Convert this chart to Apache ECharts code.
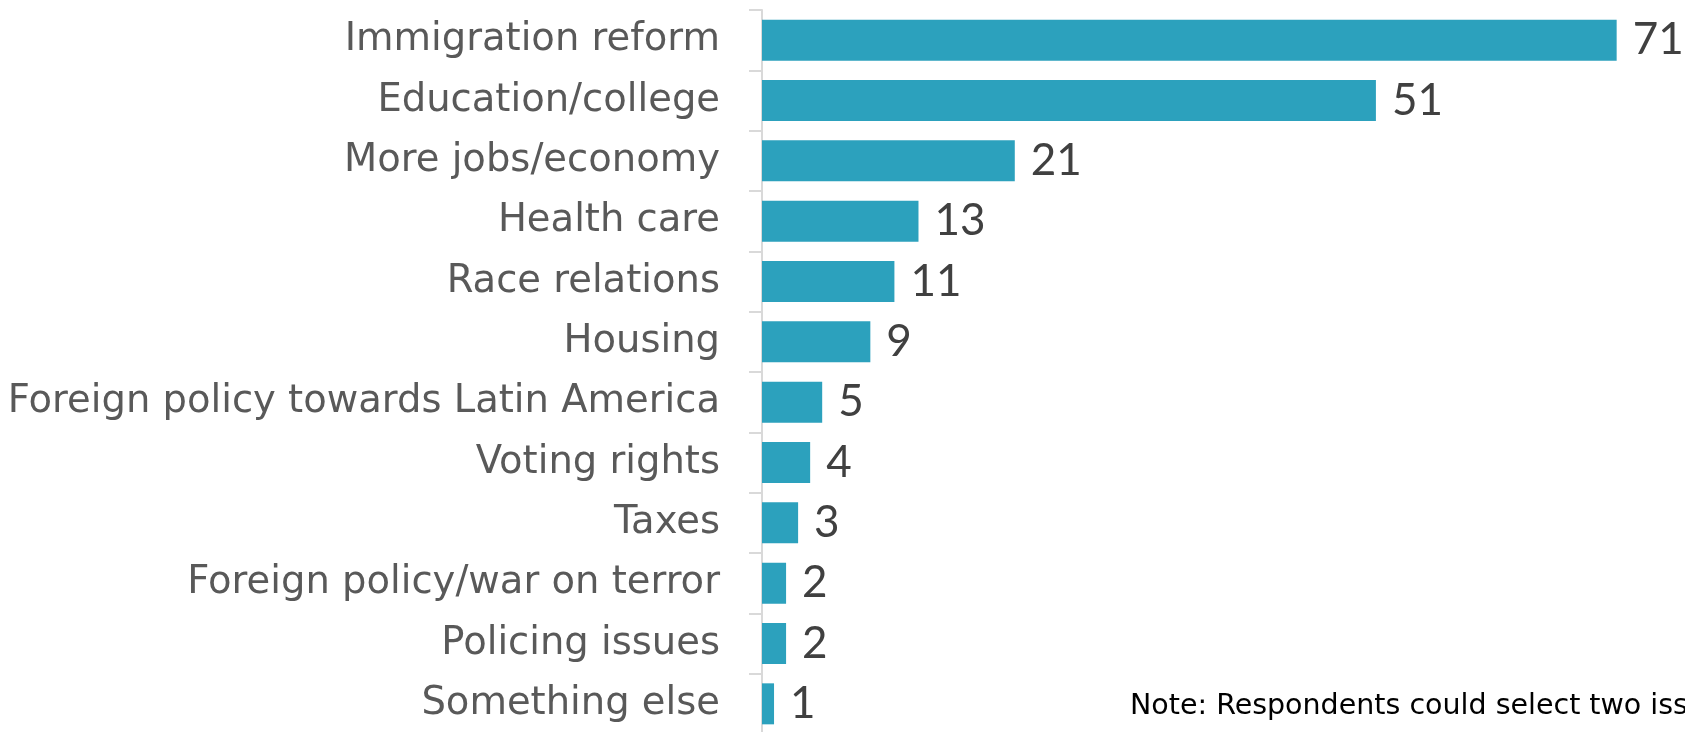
<!DOCTYPE html>
<html>
<head>
<meta charset="utf-8">
<script src="https://cdn.jsdelivr.net/npm/echarts@6/dist/echarts.min.js"></script>
<style>
html, body { margin: 0; padding: 0; background: #fff; }
#chart { width: 1685px; height: 732px; }
</style>
</head>
<body>
<div id="chart"></div>
<script>
var categories = ['Immigration reform', 'Education/college', 'More jobs/economy', 'Health care',
  'Race relations', 'Housing', 'Foreign policy towards Latin America', 'Voting rights',
  'Taxes', 'Foreign policy/war on terror', 'Policing issues', 'Something else']
var values = [71, 51, 21, 13, 11, 9, 5, 4, 3, 2, 2, 1]
var noteText = 'Note: Respondents could select two issues.'

var chart = echarts.init(document.getElementById('chart'))
chart.setOption({
  backgroundColor: '#fff',
  animation: false,
  grid: { left: 762, top: 10, width: 963, height: 724, outerBoundsMode: 'none', containLabel: false },
  xAxis: {
    type: 'value', min: 0, max: 80,
    axisLine: { show: false }, axisTick: { show: false },
    axisLabel: { show: false }, splitLine: { show: false }
  },
  yAxis: {
    type: 'category', inverse: true, data: categories,
    axisLine: { show: true, lineStyle: { color: '#d9d9d9', width: 2 } },
    axisTick: { show: true, length: 13, lineStyle: { color: '#d9d9d9', width: 2 } },
    axisLabel: { color: '#595959', fontSize: 38.5, fontFamily: 'DejaVu Sans', margin: 42, padding: [5, 0, 0, 0] }
  },
  series: [{
    type: 'bar', data: values, barWidth: 41,
    itemStyle: { color: '#2ca1bd' },
    label: { show: true, position: 'right', distance: 16, color: '#404040', fontSize: 44, fontFamily: 'Lato' }
  }],
  graphic: [{
    type: 'text', left: 1130, top: 692,
    style: { text: noteText, fill: '#000', fontSize: 28.5, fontFamily: 'DejaVu Sans' }
  }]
})
</script>
</body>
</html>
